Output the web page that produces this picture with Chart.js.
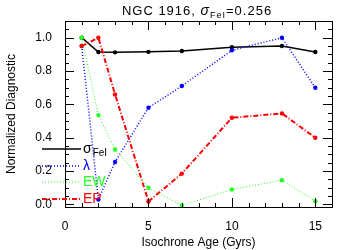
<!DOCTYPE html>
<html>
<head>
<meta charset="utf-8">
<script src="https://cdn.jsdelivr.net/npm/chart.js@4"></script>
<style>
  html, body { margin: 0; padding: 0; background: #fff; }
  #wrap { width: 350px; height: 250px; }
</style>
</head>
<body>
<div id="wrap"><canvas id="chart" width="350" height="250"></canvas></div>
<script>
// Isochrone ages (Gyrs)
const ages = [1, 2, 3, 5, 7, 10, 13, 15];

// Normalized diagnostics
const sigmaFeI = [1.00, 0.914, 0.912, 0.915, 0.92, 0.943, 0.95, 0.914];
const lambdaVals = [0.95, 0.03, 0.255, 0.58, 0.71, 0.924, 1.00, 0.70];
const ewVals = [1.00, 0.536, 0.33, 0.10, -0.005, 0.09, 0.146, 0.02];
const epVals = [0.95, 1.00, 0.66, 0.018, 0.185, 0.52, 0.546, 0.40];

const xTicks = [0, 5, 10, 15];
const yTicks = [0.0, 0.2, 0.4, 0.6, 0.8, 1.0];

const FONT = '"Liberation Sans", Arial, sans-serif';

function pts(vals) {
    return ages.map((a, i) => ({ x: a, y: vals[i] }));
}

// Legend entries drawn by plugin
const legendItems = [
    { label: 'σ', sub: 'FeI', color: '#000000', dash: [], width: 1.5 },
    { label: 'λ', sub: '', color: '#0000ff', dash: [1, 2], width: 1.5 },
    { label: 'EW', sub: '', color: '#22ff22', dash: [1, 2], width: 1 },
    { label: 'EP', sub: '', color: '#ff0000', dash: [5, 2, 1, 2], width: 2 }
];

// Box, inward ticks, title and legend
const framePlugin = {
    id: 'frame',
    afterDraw(chart) {
        const ctx = chart.ctx;
        const a = chart.chartArea;
        const xs = chart.scales.x;
        const ys = chart.scales.y;
        ctx.save();
        ctx.strokeStyle = '#000';
        ctx.lineWidth = 1;
        ctx.strokeRect(a.left + 0.5, a.top + 0.5, a.right - a.left, a.bottom - a.top);

        // x ticks (major every 5, minor every 1)
        for (let v = 0; v <= 16; v++) {
            const px = Math.round(xs.getPixelForValue(v)) + 0.5;
            const len = v % 5 === 0 ? 9 : 4;
            ctx.beginPath();
            ctx.moveTo(px, a.bottom); ctx.lineTo(px, a.bottom - len);
            ctx.moveTo(px, a.top); ctx.lineTo(px, a.top + len);
            ctx.stroke();
        }
        // y ticks (major every 0.2, minor every 0.05)
        for (let k = 0; k <= 22; k++) {
            const v = k * 0.05;
            const py = Math.round(ys.getPixelForValue(v)) + 0.5;
            const len = k % 4 === 0 ? 9 : 4;
            ctx.beginPath();
            ctx.moveTo(a.left, py); ctx.lineTo(a.left + len, py);
            ctx.moveTo(a.right, py); ctx.lineTo(a.right - len, py);
            ctx.stroke();
        }

        // title with subscript
        ctx.fillStyle = '#000';
        ctx.textBaseline = 'alphabetic';
        ctx.letterSpacing = '1px';
        const p1 = 'NGC 1916, ';
        const p2 = 'σ';
        const p3 = 'FeI';
        const p4 = '=0.256';
        ctx.font = '13px ' + FONT;
        const w1 = ctx.measureText(p1).width;
        ctx.font = 'italic 14px ' + FONT;
        const w2 = ctx.measureText(p2).width;
        ctx.font = '9px ' + FONT;
        const w3 = ctx.measureText(p3).width;
        ctx.font = '13px ' + FONT;
        const w4 = ctx.measureText(p4).width;
        let tx = 197 - (w1 + w2 + w3 + w4) / 2;
        const ty = 15;
        ctx.textAlign = 'left';
        ctx.font = '13px ' + FONT;
        ctx.fillText(p1, tx, ty); tx += w1;
        ctx.font = 'italic 14px ' + FONT;
        ctx.fillText(p2, tx, ty); tx += w2;
        ctx.font = '9px ' + FONT;
        ctx.fillText(p3, tx, ty + 3); tx += w3;
        ctx.font = '13px ' + FONT;
        ctx.fillText(p4, tx, ty);
        ctx.letterSpacing = '0px';

        // legend
        const ly = [149, 166, 182, 199];
        legendItems.forEach((it, i) => {
            ctx.strokeStyle = it.color;
            ctx.lineWidth = it.width;
            ctx.setLineDash(it.dash);
            ctx.beginPath();
            ctx.moveTo(42, ly[i]); ctx.lineTo(81, ly[i]);
            ctx.stroke();
            ctx.setLineDash([]);
            ctx.fillStyle = it.color;
            ctx.font = '14px ' + FONT;
            ctx.fillText(it.label, 83, ly[i] + 4);
            if (it.sub) {
                const lw = ctx.measureText(it.label).width;
                ctx.font = '10px ' + FONT;
                ctx.fillText(it.sub, 83 + lw + 1, ly[i] + 7);
            }
        });
        ctx.restore();
    }
};

function dataset(vals, color, dash, width) {
    return {
        data: pts(vals),
        borderColor: color,
        backgroundColor: color,
        borderDash: dash,
        borderWidth: width,
        pointRadius: 2.2,
        pointBorderWidth: 0,
        pointHoverRadius: 2.2,
        tension: 0,
        clip: false
    };
}

new Chart(document.getElementById('chart'), {
    type: 'line',
    data: {
        datasets: [
            dataset(ewVals, '#22ff22', [1, 2], 1),
            dataset(epVals, '#ff0000', [5, 2, 1, 2], 2),
            dataset(lambdaVals, '#0000ff', [1, 2], 1.5),
            dataset(sigmaFeI, '#000000', [], 1.5)
        ]
    },
    options: {
        responsive: false,
        animation: false,
        events: [],
        layout: { padding: { top: 21, right: 18, left: 0, bottom: 0 } },
        plugins: { legend: { display: false }, tooltip: { enabled: false } },
        scales: {
            x: {
                type: 'linear',
                min: 0,
                max: 16,
                afterBuildTicks: s => { s.ticks = xTicks.map(v => ({ value: v })); },
                afterFit: s => { s.height = 43; },
                grid: { display: false },
                border: { display: false },
                ticks: {
                    color: '#000',
                    padding: 4,
                    maxRotation: 0,
                    font: { family: FONT, size: 12 }
                },
                title: {
                    display: true,
                    text: 'Isochrone Age (Gyrs)',
                    color: '#000',
                    padding: { top: 0, bottom: 0 },
                    font: { family: FONT, size: 12 }
                }
            },
            y: {
                type: 'linear',
                min: -0.015,
                max: 1.1,
                afterBuildTicks: s => { s.ticks = yTicks.map(v => ({ value: v })); },
                afterFit: s => { s.width = 65; },
                grid: { display: false },
                border: { display: false },
                ticks: {
                    color: '#000',
                    padding: 5,
                    font: { family: FONT, size: 12 },
                    callback: v => v.toFixed(1)
                },
                title: {
                    display: true,
                    text: 'Normalized Diagnostic',
                    color: '#000',
                    padding: { top: 4, bottom: 4 },
                    font: { family: FONT, size: 12 }
                }
            }
        }
    },
    plugins: [framePlugin]
});
</script>
</body>
</html>
